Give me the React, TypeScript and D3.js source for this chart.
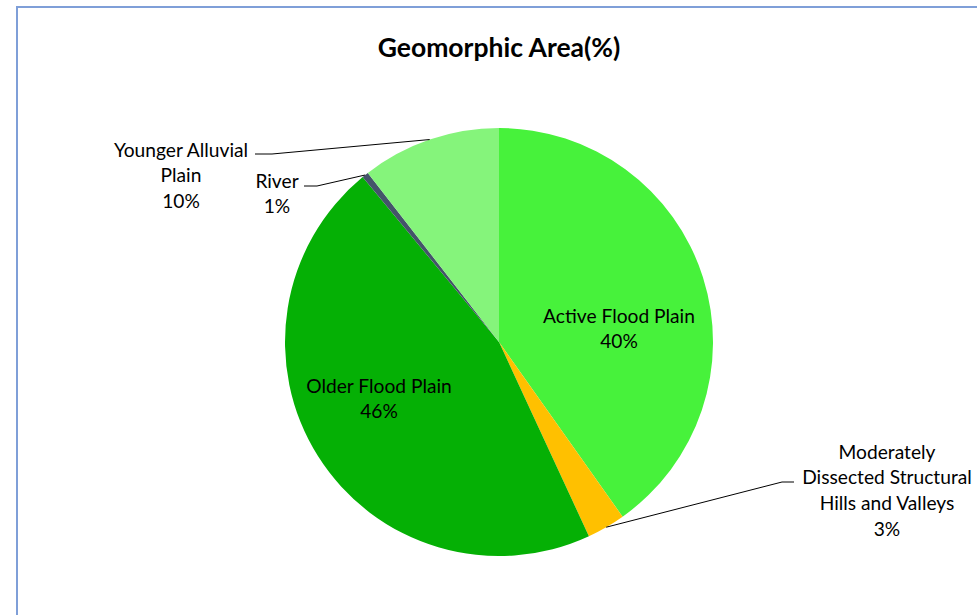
import React from "react";
import * as d3 from "d3";

const categories = [
  "Active Flood Plain",
  "Moderately Dissected Structural Hills and Valleys",
  "Older Flood Plain",
  "River",
  "Younger Alluvial Plain",
];
const values = [40.2, 2.9, 45.9, 0.5, 10.5];
const percentLabels = ["40%", "3%", "46%", "1%", "10%"];
const colors = ["#47f23b", "#ffc000", "#05b005", "#44546a", "#85f47b"];

const W = 977;
const H = 615;
const cx = 499;
const cy = 342;
const R = 214;
const FONT = "Lato, 'Open Sans', sans-serif";

export default function App() {
  const pie = d3.pie<number>().sort(null).value((d) => d)(values);
  const arc = d3.arc<d3.PieArcDatum<number>>().innerRadius(0).outerRadius(R);
  const pt = (a: number, r: number) => [Math.sin(a) * r, -Math.cos(a) * r];

  const labelLines: string[][] = [
    ["Active Flood Plain", percentLabels[0]],
    ["Moderately", "Dissected Structural", "Hills and Valleys", percentLabels[1]],
    ["Older Flood Plain", percentLabels[2]],
    ["River", percentLabels[3]],
    ["Younger Alluvial", "Plain", percentLabels[4]],
  ];
  const labelPos: [number, number][] = [
    [619, 315],
    [887, 451],
    [379, 385],
    [277, 180],
    [181, 149],
  ];
  const leaders: ({ ex: number; ey: number; hx: number } | null)[] = [
    null,
    { ex: 782, ey: 482, hx: 794 },
    null,
    { ex: 317, ey: 186, hx: 304 },
    { ex: 272, ey: 154, hx: 255 },
  ];

  return (
    <svg width={W} height={H} style={{ display: "block", position: "absolute", left: 0, top: 0 }}>
      <rect x={0} y={0} width={W} height={H} fill="#ffffff" />
      <path d={`M17,${H} L17,7 L${W},7`} fill="none" stroke="#7f9fd8" strokeWidth={2} />
      <text
        x={499}
        y={47}
        textAnchor="middle"
        dominantBaseline="central"
        fontFamily={FONT}
        fontWeight="bold"
        fontSize={26.5}
        fill="#000"
      >
        Geomorphic Area(%)
      </text>
      <g transform={`translate(${cx},${cy})`}>
        {pie.map((p, i) => (
          <path key={categories[i]} d={arc(p) || ""} fill={colors[i]} />
        ))}
      </g>
      {pie.map((p, i) => {
        const L = leaders[i];
        if (!L) return null;
        const mid = (p.startAngle + p.endAngle) / 2;
        const [sx, sy] = pt(mid, R);
        return (
          <polyline
            key={"l" + i}
            points={`${cx + sx},${cy + sy} ${L.ex},${L.ey} ${L.hx},${L.ey}`}
            fill="none"
            stroke="#000"
            strokeWidth={1}
          />
        );
      })}
      {labelLines.map((lines, i) => (
        <text key={"t" + i} textAnchor="middle" fontFamily={FONT} fontSize={19.2} fill="#000">
          {lines.map((ln, j) => (
            <tspan key={j} x={labelPos[i][0]} y={labelPos[i][1] + j * 25.7} dominantBaseline="central">
              {ln}
            </tspan>
          ))}
        </text>
      ))}
    </svg>
  );
}
